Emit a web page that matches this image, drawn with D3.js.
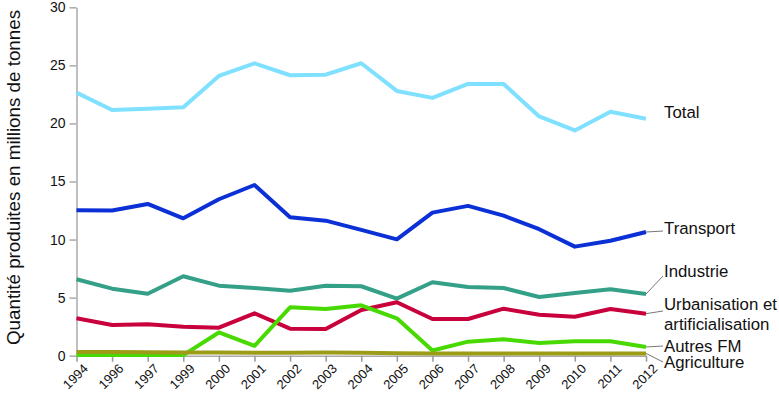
<!DOCTYPE html>
<html>
<head>
<meta charset="utf-8">
<script src="https://cdn.jsdelivr.net/npm/d3@7"></script>
<style>
  html, body { margin: 0; padding: 0; background: #fff; }
  svg { display: block; font-family: "Liberation Sans", Arial, sans-serif; }
</style>
</head>
<body>
<svg id="chart" width="779" height="393"></svg>
<script>
const years = ["1994","1996","1997","1999","2000","2001","2002","2003","2004","2005","2006","2007","2008","2009","2010","2011","2012"];
const yTicks = [0, 5, 10, 15, 20, 25, 30];

const total        = [22.65, 21.16, 21.27, 21.4, 24.09, 25.18, 24.15, 24.2, 25.18, 22.8, 22.2, 23.4, 23.4, 20.6, 19.4, 21.0, 20.4];
const transport    = [12.52, 12.5, 13.07, 11.83, 13.47, 14.7, 11.92, 11.63, 10.83, 10.02, 12.32, 12.9, 12.06, 10.89, 9.39, 9.9, 10.65];
const industrie    = [6.58, 5.77, 5.34, 6.84, 6.03, 5.83, 5.6, 6.03, 5.98, 4.91, 6.32, 5.92, 5.83, 5.06, 5.4, 5.72, 5.31];
const urbanisation = [3.22, 2.64, 2.7, 2.5, 2.41, 3.65, 2.33, 2.3, 3.94, 4.6, 3.16, 3.16, 4.05, 3.53, 3.36, 4.02, 3.62];
const autresFM     = [0.05, 0.05, 0.05, 0.05, 2.0, 0.84, 4.17, 4.02, 4.34, 3.22, 0.45, 1.21, 1.41, 1.09, 1.24, 1.24, 0.75];
const agriculture  = [0.32, 0.31, 0.29, 0.28, 0.27, 0.26, 0.25, 0.27, 0.25, 0.22, 0.2, 0.2, 0.2, 0.2, 0.2, 0.2, 0.2];

const seriesNames  = ["Total", "Transport", "Industrie", "Urbanisation et\nartificialisation", "Autres FM", "Agriculture"];
const seriesValues = [total, transport, industrie, urbanisation, autresFM, agriculture];
const seriesColors = ["#80e0ff", "#0b30d6", "#35a088", "#c8003c", "#48da00", "#9c9c18"];
const drawOrder    = [0, 1, 2, 3, 4, 5];
// label layout: [baseline y of first line, leader end y] (null leader = none)
const labelLayout  = [[118, null], [233.5, 231], [277, 276], [309.5, 311], [352, 346], [368, 362]];

const svg = d3.select("#chart");
const margin = { left: 76.5, right: 133, top: 7.3, bottom: 37.3 };
const W = 779, H = 393;

const x = d3.scalePoint().domain(years).range([margin.left, 646]);
const y = d3.scaleLinear().domain([0, 30]).range([H - margin.bottom, margin.top]);

// y axis
const yAxis = svg.append("g")
  .attr("transform", `translate(${margin.left},0)`)
  .call(d3.axisLeft(y).tickValues(yTicks).tickSize(7).tickPadding(4).tickSizeOuter(0));
yAxis.select(".domain").attr("stroke", "#aaa").attr("stroke-width", 1.5);
yAxis.selectAll(".tick line").attr("stroke", "#aaa").attr("stroke-width", 1.5);
yAxis.selectAll(".tick text").attr("font-size", 14).attr("fill", "#111")
  .attr("font-family", "Liberation Sans, Arial, sans-serif");

// x axis
const xAxis = svg.append("g")
  .attr("transform", `translate(0,${y(0)})`)
  .call(d3.axisBottom(x).tickSize(6).tickSizeOuter(0));
xAxis.select(".domain").attr("stroke", "#aaa").attr("stroke-width", 1.5);
xAxis.selectAll(".tick line").attr("stroke", "#999").attr("stroke-width", 1.5);
xAxis.selectAll(".tick text")
  .attr("font-size", 13).attr("fill", "#111")
  .attr("font-family", "Liberation Sans, Arial, sans-serif")
  .attr("text-anchor", "end")
  .attr("dy", null).attr("y", null)
  .attr("transform", "translate(5,7) rotate(-45)")
  .attr("dominant-baseline", "hanging");

// y title
svg.append("text")
  .attr("transform", `translate(20,${(10 + 345) / 2}) rotate(-90)`)
  .attr("text-anchor", "middle")
  .attr("font-size", 18.8)
  .attr("fill", "#111")
  .text("Quantité produites en millions de tonnes");

// lines
const line = d3.line().x((d, i) => x(years[i])).y(d => y(d));
const lineG = svg.append("g");
drawOrder.forEach(k => {
  lineG.append("path")
    .datum(seriesValues[k])
    .attr("fill", "none")
    .attr("stroke", seriesColors[k])
    .attr("stroke-width", 4)
    .attr("stroke-linejoin", "round")
    .attr("d", line);
});

// labels + leaders
const labelX = 663;
const lastX = x(years[years.length - 1]);
seriesNames.forEach((name, k) => {
  const [by, ly] = labelLayout[k];
  const vals = seriesValues[k];
  if (ly !== null) {
    svg.append("line")
      .attr("x1", lastX).attr("y1", y(vals[vals.length - 1]))
      .attr("x2", labelX).attr("y2", ly)
      .attr("stroke", "#777").attr("stroke-width", 1);
  }
  const t = svg.append("text")
    .attr("x", labelX + 1).attr("y", by)
    .attr("font-size", 16.8).attr("fill", "#111");
  name.split("\n").forEach((s, j) => {
    t.append("tspan").attr("x", labelX + 1).attr("dy", j === 0 ? 0 : 20).text(s);
  });
});
</script>
</body>
</html>
